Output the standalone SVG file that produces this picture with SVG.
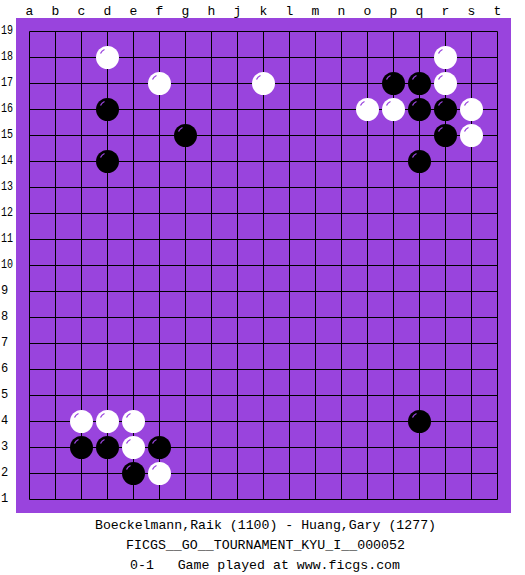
<svg xmlns="http://www.w3.org/2000/svg" xmlns:xlink="http://www.w3.org/1999/xlink" width="525" height="575" viewBox="0 0 525 575">
<style>
.lbl{font-family:"Liberation Mono","DejaVu Sans Mono",monospace;font-size:13px;fill:#000}
.col{text-anchor:middle}
.row text{font-size:12px}
.grid{stroke:#000;stroke-width:1;fill:none}
.hl{fill:none;stroke:#9944dd;stroke-width:1.3}
</style>
<defs>
<g id="w"><circle r="11.5" fill="#fff"/><path class="hl" d="M-7,-4 A8,8 0 0 1 -3,-8"/></g>
<g id="b"><circle r="11.5" fill="#000"/><path class="hl" d="M-7,-4 A8,8 0 0 1 -3,-8"/></g>
</defs>
<rect width="525" height="575" fill="#fff"/>
<rect id="board" x="16" y="18" width="495" height="495" fill="#9944dd"/>
<g id="connectors" class="grid">
<path d="M29.5,31.5V499.5M55.5,31.5V499.5M81.5,31.5V499.5M107.5,31.5V499.5M133.5,31.5V499.5M159.5,31.5V499.5M185.5,31.5V499.5M211.5,31.5V499.5M237.5,31.5V499.5M263.5,31.5V499.5M289.5,31.5V499.5M315.5,31.5V499.5M341.5,31.5V499.5M367.5,31.5V499.5M393.5,31.5V499.5M419.5,31.5V499.5M445.5,31.5V499.5M471.5,31.5V499.5M497.5,31.5V499.5"/>
<path d="M29.5,31.5H497.5M29.5,57.5H497.5M29.5,83.5H497.5M29.5,109.5H497.5M29.5,135.5H497.5M29.5,161.5H497.5M29.5,187.5H497.5M29.5,213.5H497.5M29.5,239.5H497.5M29.5,265.5H497.5M29.5,291.5H497.5M29.5,317.5H497.5M29.5,343.5H497.5M29.5,369.5H497.5M29.5,395.5H497.5M29.5,421.5H497.5M29.5,447.5H497.5M29.5,473.5H497.5M29.5,499.5H497.5"/>
</g>
<g id="columns" class="lbl col">
<text x="29.5" y="15">a</text><text x="55.5" y="15">b</text><text x="81.5" y="15">c</text><text x="107.5" y="15">d</text><text x="133.5" y="15">e</text><text x="159.5" y="15">f</text><text x="185.5" y="15">g</text><text x="211.5" y="15">h</text><text x="237.5" y="15">j</text><text x="263.5" y="15">k</text><text x="289.5" y="15">l</text><text x="315.5" y="15">m</text><text x="341.5" y="15">n</text><text x="367.5" y="15">o</text><text x="393.5" y="15">p</text><text x="419.5" y="15">q</text><text x="445.5" y="15">r</text><text x="471.5" y="15">s</text><text x="497.5" y="15">t</text>
</g>
<g id="rows" class="lbl row">
<text x="1" y="33.5" textLength="12" lengthAdjust="spacingAndGlyphs">19</text><text x="1" y="59.5" textLength="12" lengthAdjust="spacingAndGlyphs">18</text><text x="1" y="85.5" textLength="12" lengthAdjust="spacingAndGlyphs">17</text><text x="1" y="111.5" textLength="12" lengthAdjust="spacingAndGlyphs">16</text><text x="1" y="137.5" textLength="12" lengthAdjust="spacingAndGlyphs">15</text><text x="1" y="163.5" textLength="12" lengthAdjust="spacingAndGlyphs">14</text><text x="1" y="189.5" textLength="12" lengthAdjust="spacingAndGlyphs">13</text><text x="1" y="215.5" textLength="12" lengthAdjust="spacingAndGlyphs">12</text><text x="1" y="241.5" textLength="12" lengthAdjust="spacingAndGlyphs">11</text><text x="1" y="267.5" textLength="12" lengthAdjust="spacingAndGlyphs">10</text><text x="1" y="293.5">9</text><text x="1" y="319.5">8</text><text x="1" y="345.5">7</text><text x="1" y="371.5">6</text><text x="1" y="397.5">5</text><text x="1" y="423.5">4</text><text x="1" y="449.5">3</text><text x="1" y="475.5">2</text><text x="1" y="501.5">1</text>
</g>
<g id="stones">
<use xlink:href="#w" x="107.5" y="57.5"/>
<use xlink:href="#w" x="445.5" y="57.5"/>
<use xlink:href="#w" x="159.5" y="83.5"/>
<use xlink:href="#w" x="263.5" y="83.5"/>
<use xlink:href="#b" x="393.5" y="83.5"/>
<use xlink:href="#b" x="419.5" y="83.5"/>
<use xlink:href="#w" x="445.5" y="83.5"/>
<use xlink:href="#b" x="107.5" y="109.5"/>
<use xlink:href="#w" x="367.5" y="109.5"/>
<use xlink:href="#w" x="393.5" y="109.5"/>
<use xlink:href="#b" x="419.5" y="109.5"/>
<use xlink:href="#b" x="445.5" y="109.5"/>
<use xlink:href="#w" x="471.5" y="109.5"/>
<use xlink:href="#b" x="185.5" y="135.5"/>
<use xlink:href="#b" x="445.5" y="135.5"/>
<use xlink:href="#w" x="471.5" y="135.5"/>
<use xlink:href="#b" x="107.5" y="161.5"/>
<use xlink:href="#b" x="419.5" y="161.5"/>
<use xlink:href="#w" x="81.5" y="421.5"/>
<use xlink:href="#w" x="107.5" y="421.5"/>
<use xlink:href="#w" x="133.5" y="421.5"/>
<use xlink:href="#b" x="419.5" y="421.5"/>
<use xlink:href="#b" x="81.5" y="447.5"/>
<use xlink:href="#b" x="107.5" y="447.5"/>
<use xlink:href="#w" x="133.5" y="447.5"/>
<use xlink:href="#b" x="159.5" y="447.5"/>
<use xlink:href="#b" x="133.5" y="473.5"/>
<use xlink:href="#w" x="159.5" y="473.5"/>
</g>
<g id="caption" class="lbl">
<text x="95" y="528.5" textLength="341" lengthAdjust="spacingAndGlyphs">Boeckelmann,Raik (1100) - Huang,Gary (1277)</text>
<text x="126" y="548.5" textLength="279" lengthAdjust="spacingAndGlyphs">FICGS__GO__TOURNAMENT_KYU_I__000052</text>
<text x="130" y="568.5" textLength="270" lengthAdjust="spacingAndGlyphs" xml:space="preserve">0-1   Game played at www.ficgs.com</text>
</g>
</svg>
